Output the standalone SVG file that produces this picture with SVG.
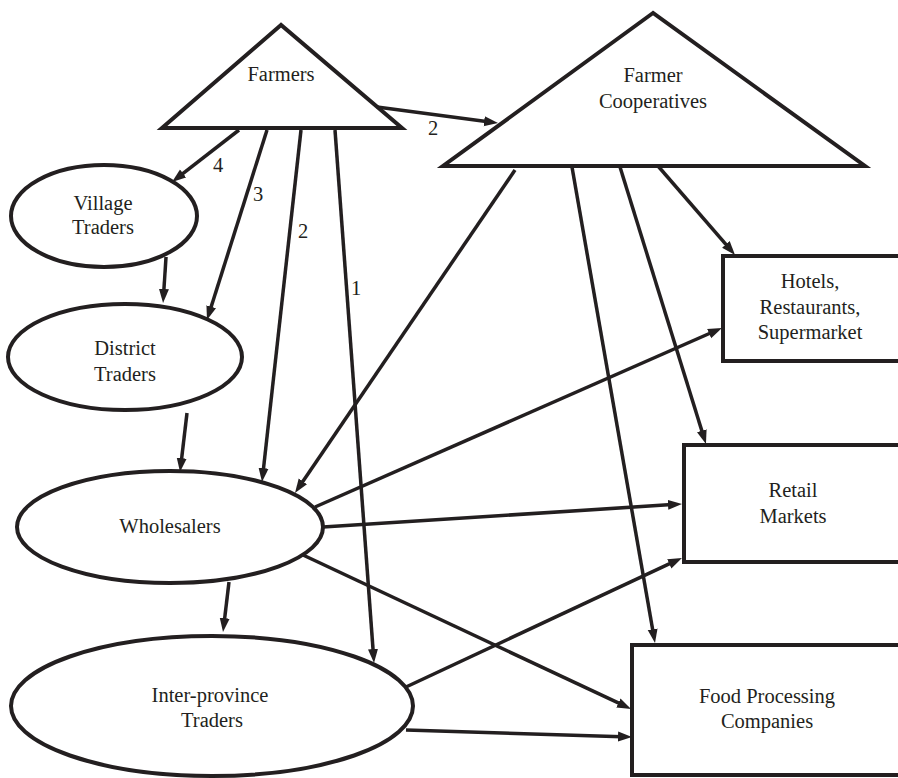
<svg xmlns="http://www.w3.org/2000/svg" width="898" height="778" viewBox="0 0 898 778" font-family="'Liberation Serif', 'Times New Roman', Times, 'DejaVu Serif', serif">
<style>
.shape{fill:#fff;stroke:#231f20;stroke-width:4}
.conn{fill:none;stroke:#231f20;stroke-width:3.5}
text{font-size:20.5px;fill:#231f20;text-anchor:middle}
</style>
<defs>
<marker id="ah" markerUnits="userSpaceOnUse" markerWidth="15" markerHeight="11" refX="4" refY="5" orient="auto" viewBox="0 0 15 10">
<path d="M0,0 L14,5 L0,10 z" fill="#231f20"/>
</marker>
</defs>
<rect width="898" height="778" fill="#fff"/>
<g id="farmers">
<polygon class="shape" points="281,25 162,128 402,128"/>
<text x="281" y="81" font-family="Liberation Serif, serif">Farmers</text>
</g>
<g id="cooperatives">
<polygon class="shape" points="653,13 443,166 865,166"/>
<text x="653" y="82">Farmer</text>
<text x="653" y="108">Cooperatives</text>
</g>
<g id="village">
<ellipse class="shape" cx="104" cy="216" rx="93" ry="51"/>
<text x="103" y="210">Village</text>
<text x="103" y="234">Traders</text>
</g>
<g id="district">
<ellipse class="shape" cx="125" cy="357" rx="117" ry="53"/>
<text x="125" y="355">District</text>
<text x="125" y="381">Traders</text>
</g>
<g id="wholesalers">
<ellipse class="shape" cx="170" cy="527" rx="153" ry="56"/>
<text x="170" y="533">Wholesalers</text>
</g>
<g id="interprovince">
<ellipse class="shape" cx="212" cy="706" rx="201" ry="70"/>
<text x="210" y="702">Inter-province</text>
<text x="212" y="727">Traders</text>
</g>
<g id="hotels">
<rect class="shape" x="723" y="256" width="190" height="105"/>
<text x="810" y="288">Hotels,</text>
<text x="810" y="314">Restaurants,</text>
<text x="810" y="339">Supermarket</text>
</g>
<g id="retail">
<rect class="shape" x="684" y="445" width="230" height="117"/>
<text x="793" y="497">Retail</text>
<text x="793" y="523">Markets</text>
</g>
<g id="food">
<rect class="shape" x="632" y="645" width="280" height="130"/>
<text x="767" y="703">Food Processing</text>
<text x="767" y="728">Companies</text>
</g>
<g id="connectors">
<line class="conn" x1="377" y1="107" x2="488.1" y2="121.7" marker-end="url(#ah)"/>
<line class="conn" x1="239" y1="130" x2="179.9" y2="175.9" marker-end="url(#ah)"/>
<line class="conn" x1="267" y1="130" x2="210.0" y2="310.5" marker-end="url(#ah)"/>
<line class="conn" x1="301" y1="130" x2="263.1" y2="472.1" marker-end="url(#ah)"/>
<line class="conn" x1="335" y1="130" x2="373.3" y2="653.0" marker-end="url(#ah)"/>
<line class="conn" x1="166" y1="257" x2="163.7" y2="293.0" marker-end="url(#ah)"/>
<line class="conn" x1="187" y1="413" x2="181.2" y2="462.1" marker-end="url(#ah)"/>
<line class="conn" x1="229" y1="582" x2="224.2" y2="622.1" marker-end="url(#ah)"/>
<line class="conn" x1="515" y1="170" x2="300.6" y2="484.7" marker-end="url(#ah)"/>
<line class="conn" x1="572" y1="167" x2="653.3" y2="633.2" marker-end="url(#ah)"/>
<line class="conn" x1="620" y1="167" x2="703.0" y2="434.5" marker-end="url(#ah)"/>
<line class="conn" x1="658" y1="166" x2="728.5" y2="247.4" marker-end="url(#ah)"/>
<line class="conn" x1="315" y1="507" x2="712.8" y2="332.0" marker-end="url(#ah)"/>
<line class="conn" x1="323" y1="527" x2="672.0" y2="504.6" marker-end="url(#ah)"/>
<line class="conn" x1="303" y1="555" x2="622.0" y2="704.7" marker-end="url(#ah)"/>
<line class="conn" x1="406" y1="687" x2="672.9" y2="562.2" marker-end="url(#ah)"/>
<line class="conn" x1="406" y1="730" x2="622.0" y2="736.7" marker-end="url(#ah)"/>
</g>
<g id="labels">
<text x="433" y="135">2</text>
<text x="218" y="172">4</text>
<text x="258" y="201">3</text>
<text x="303" y="238">2</text>
<text x="356" y="295">1</text>
</g>
</svg>
